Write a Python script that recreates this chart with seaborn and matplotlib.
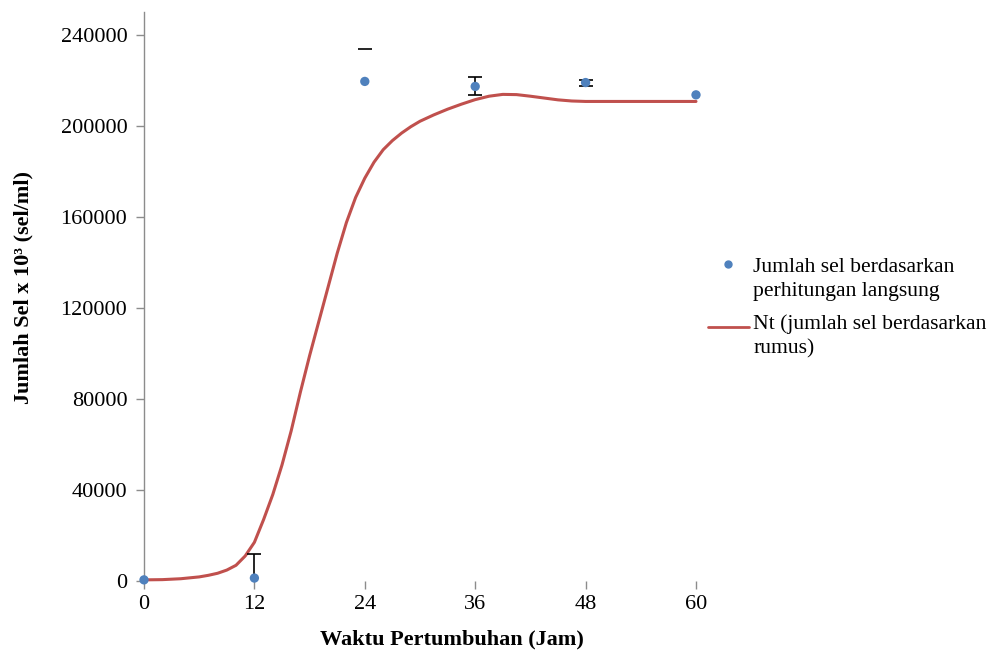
import matplotlib
matplotlib.use("Agg")
import matplotlib.pyplot as plt
import seaborn as sns
import numpy as np
import pandas as pd
from matplotlib.lines import Line2D
from matplotlib.ticker import FuncFormatter

# ---- data ----
obs_time = [0, 12, 24, 36, 48, 60]
obs_cells = [500, 1300, 219500, 217300, 219000, 213600]
err_low = [0, 1300, 0, 3900, 1300, 0]
err_high = [0, 10500, 14300, 4000, 1300, 0]
show_bar = [0, 1, 0, 1, 1, 0]
show_low_cap = [0, 0, 0, 1, 1, 0]
show_high_cap = [0, 1, 1, 1, 1, 0]

curve_time = [0, 2, 4, 6, 7, 8, 9, 10, 11, 12, 13, 14, 15, 16, 17, 18, 19, 20,
              21, 22, 23, 24, 25, 26, 27, 28, 29, 30, 31.5, 33, 34.5, 36, 37.5,
              39, 40.5, 42, 43.5, 45, 46.5, 48, 54, 60]
curve_cells = [500, 600, 1000, 1800, 2500, 3400, 4800, 6900, 11000, 17000, 27000,
               38000, 51000, 66000, 83000, 99000, 114000, 129000,
               144000, 157500, 168500, 177000, 184000, 189500, 193500, 196800,
               199600, 202000, 204800, 207300, 209500, 211500, 213000,
               213800, 213700, 213000, 212200, 211400, 210900, 210700, 210700,
               210700]

x_ticks = [0, 12, 24, 36, 48, 60]
y_ticks = [0, 40000, 80000, 120000, 160000, 200000, 240000]

label_obs = "Jumlah sel berdasarkan\nperhitungan langsung"
label_fit = "Nt (jumlah sel berdasarkan\nrumus)"

# ---- style ----
sns.set_theme(style="white")
plt.rcParams['font.family'] = ['Liberation Serif', 'DejaVu Serif']

blue = "#4F81BD"
red = "#C0504D"
gray = "#8C8C8C"

fig = plt.figure(figsize=(9.93, 6.51), dpi=100)
ax = fig.add_axes([144/993, 70/651, 552/993, 569/651])

df_curve = pd.DataFrame({"t": curve_time, "n": curve_cells})
df_obs = pd.DataFrame({"t": obs_time, "n": obs_cells})

sns.lineplot(data=df_curve, x="t", y="n", color=red, linewidth=2.2, ax=ax,
             zorder=2, clip_on=False)

eb = ax.errorbar(obs_time, obs_cells, yerr=[err_low, err_high], fmt="none",
                 ecolor="black", elinewidth=1.2, capsize=5, capthick=1.2,
                 zorder=3, clip_on=True)
eb[2][0].set_linewidths([1.2 * s for s in show_bar])
eb[1][0].set_markevery([i for i, s in enumerate(show_low_cap) if s])
eb[1][1].set_markevery([i for i, s in enumerate(show_high_cap) if s])

sns.scatterplot(data=df_obs, x="t", y="n", color=blue, s=45, edgecolor="none",
                ax=ax, zorder=4, clip_on=False)

ax.set_xlim(0, 60)
ax.set_ylim(0, 250000)
ax.set_xticks(x_ticks)
ax.set_yticks(y_ticks)
ax.yaxis.set_major_formatter(FuncFormatter(lambda v, p: f"{int(v)}"))

for side in ["top", "right", "bottom"]:
    ax.spines[side].set_visible(False)
ax.spines["left"].set_color(gray)
ax.spines["left"].set_linewidth(1.0)

ax.tick_params(axis="both", which="major", direction="out", length=6, width=1.0,
               color=gray, labelsize=16, labelcolor="black", pad=6)
ax.tick_params(axis="x", bottom=True, pad=4)
ax.tick_params(axis="y", left=True)

ax.set_xlabel("Waktu Pertumbuhan (Jam)", fontsize=16, fontweight="bold", color="black")
ax.set_ylabel("Jumlah Sel x 10³ (sel/ml)", fontsize=16, fontweight="bold", color="black")
ax.xaxis.set_label_coords(0.558, -0.085)
ax.yaxis.set_label_coords(-0.2, 0.515)

handles = [
    Line2D([], [], marker="o", linestyle="none", color=blue, markersize=5),
    Line2D([], [], color=red, linewidth=2),
]
leg = fig.legend(handles, [label_obs, label_fit], loc="upper left",
                 bbox_to_anchor=(699/993, 1 - 249/651), frameon=False,
                 fontsize=15.6, handlelength=1.9, handletextpad=0.2,
                 labelspacing=0.6, borderaxespad=0)
for t in leg.get_texts():
    t.set_linespacing(1.4)
    t.set_color("black")
# align the legend keys with the first line of their labels
for h, dy in zip(leg.legend_handles, [11.0, 6.8]):
    h.set_ydata([v + dy for v in h.get_ydata()])

fig.savefig("out.png", dpi=100, facecolor="white")
